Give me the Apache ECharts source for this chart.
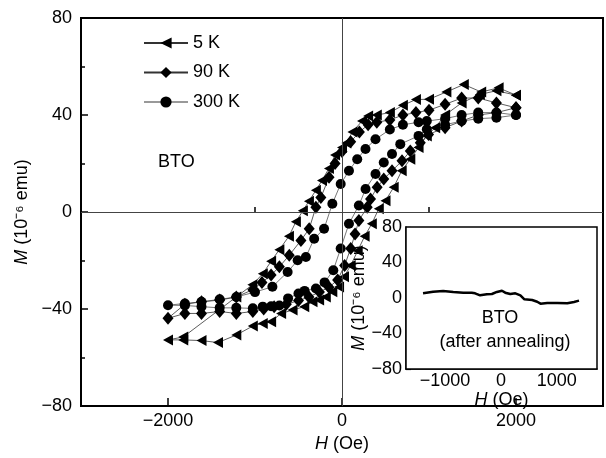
<!DOCTYPE html>
<html>
<head>
<meta charset="utf-8">
<script src="https://cdn.jsdelivr.net/npm/echarts@6/dist/echarts.min.js"></script>
<style>
  html, body { margin: 0; padding: 0; background: #fff; }
  #chart { width: 606px; height: 458px; }
</style>
</head>
<body>
<div id="chart"></div>
<script>
// 5 K loop: descending branch then ascending branch
const h5K = [2000, 1800, 1600, 1400, 1200, 1000, 850, 700, 550, 400, 300, 230, 120, 50, 0, -80, -150, -230, -300, -380, -450, -530, -610, -720, -815, -910, -1030, -1215, -1825, -2000,
  -1825, -1615, -1425, -1215, -1025, -911, -815, -700, -568, -434, -339, -263, -186, -111, -34, 23, 100, 180, 260, 343, 423, 500, 594, 686, 785, 880, 975, 1071, 1185, 1375, 1585, 1775, 2000]
const m5K = [48.2, 51.2, 49.5, 52.6, 49.5, 46.5, 46.4, 44, 41, 40, 39.6, 37.5, 33, 28.5, 26.6, 23.5, 18, 13, 9, 4.5, 0.5, -4, -10, -15.5, -20.3, -25.4, -30, -35, -51.5, -52.7,
  -52.7, -53, -53.8, -50.7, -47, -45.9, -45.2, -41.8, -40.4, -39, -37, -36.3, -35, -32.9, -30.9, -26.7, -22, -16, -10, -4.8, 1.4, 4.7, 10.2, 17, 21.8, 26.6, 31.4, 34.8, 40, 45, 48.5, 50, 48.2]

// 90 K loop
const h90K = [2000, 1775, 1566, 1375, 1185, 1000, 850, 700, 550, 400, 300, 200, 100, 0, -80, -149, -243, -300, -377, -472, -606, -720, -815, -920, -1025, -1215, -1406, -1615, -1806, -2000,
  -1806, -1615, -1406, -1215, -1025, -900, -780, -640, -500, -380, -260, -150, -50, 30, 100, 150, 194, 290, 328, 404, 480, 575, 690, 785, 900, 995, 1185, 1375, 1566, 1775, 2000]
const m90K = [43, 45, 47, 47, 44.4, 42, 41, 40, 38, 37, 36, 33, 29, 25, 20, 14.3, 6, 2, -6.9, -11.7, -17.8, -22.6, -26, -29, -32, -35, -36.3, -37, -38, -43.8,
  -41.8, -41.8, -41, -41.8, -41, -40, -39, -38, -36.5, -35, -33, -31, -28, -22, -15, -9, -3.5, 2, 5.4, 10.2, 13.6, 17, 21.1, 25.2, 28.6, 32, 34.8, 37.5, 40, 41, 43]

// 300 K loop
const h300K = [2000, 1775, 1566, 1375, 1185, 975, 880, 700, 550, 385, 270, 175, 80, -15, -111, -206, -320, -415, -510, -625, -800, -1000, -1215, -1406, -1615, -1806, -2000,
  -1806, -1615, -1406, -1215, -1025, -911, -815, -720, -620, -500, -430, -300, -200, -100, -15, 80, 194, 271, 385, 480, 575, 670, 880, 975, 1185, 1375, 1566, 1775, 2000]
const m300K = [40, 41, 41, 40, 38.5, 37.5, 37, 36, 34, 30, 26, 21.8, 17, 11.6, 3.4, -6.9, -11, -18.5, -19.9, -24.7, -30.8, -33, -35, -36, -37, -37.7, -38.4,
  -38.5, -39, -39.5, -39.5, -39.7, -39, -38.8, -38.5, -35.6, -33.6, -32.5, -31.5, -29, -24, -15, -4.8, 2.7, 9.5, 15.7, 20.4, 23.9, 28, 31.4, 34.1, 36, 37.5, 38.5, 38.9, 40]

// inset: after annealing
const hAnneal = [-1395, -1214, -1034, -854, -674, -523, -463, -373, -252, -162, -72, 18, 77, 168, 258, 348, 420, 559, 649, 708, 829, 1009, 1189, 1308, 1398]
const mAnneal = [5.3, 7.1, 7.9, 6.8, 6.0, 6.0, 5.3, 3.0, 4.2, 4.5, 6.8, 8.2, 6.0, 4.5, 5.3, 3.0, -1.5, -2.3, -4.2, -6.4, -5.6, -5.6, -6.0, -4.5, -3.0]

const mainXLabels = [-2000, 0, 2000]
const mainXMinorTicks = [-1000, 1000]
const insetXTicks = [-1500, -1000, -500, 0, 500, 1000, 1500]
const insetXLabels = [-1000, 0, 1000]

const FONT = 'Liberation Sans, Arial, sans-serif'
const zip = (xs, ys) => xs.map((x, i) => [x, ys[i]])
const minus = (v) => String(v).replace('-', '\u2212')

const labelStyle = { color: '#000', fontSize: 18, fontFamily: FONT, formatter: minus }
const axisName = (letter, rest) => `{i|${letter}}${rest}`
const nameStyle = {
  color: '#000', fontSize: 18, fontFamily: FONT,
  rich: { i: { fontStyle: 'italic', fontSize: 18, fontFamily: FONT, color: '#000' } },
}

const chart = echarts.init(document.getElementById('chart'))

const option = {
  animation: false,
  backgroundColor: '#fff',
  textStyle: { fontFamily: FONT },
  grid: [
    { left: 81, top: 18, right: 3, bottom: 50, show: true, borderColor: '#000', borderWidth: 2, backgroundColor: 'transparent' },
    { left: 406, top: 227, right: 9, bottom: 89, show: true, borderColor: '#000', borderWidth: 1.5, backgroundColor: '#fff', z: 5 },
  ],
  legend: {
    orient: 'vertical',
    left: 138,
    top: 28,
    itemWidth: 44,
    itemHeight: 14,
    itemGap: 9.5,
    textStyle: { color: '#000', fontSize: 18, fontFamily: FONT, lineHeight: 20 },
    data: [
      { name: '5 K' },
      { name: '90 K' },
      { name: '300 K', lineStyle: { color: '#999' } },
    ],
  },
  xAxis: [
    {
      gridIndex: 0, type: 'value', min: -3000, max: 3000,
      name: axisName('H', ' (Oe)'), nameLocation: 'middle', nameGap: 23, nameTextStyle: nameStyle,
      axisLine: { show: true, onZero: false, lineStyle: { color: '#000', width: 2 } },
      axisTick: { inside: true, length: 8, customValues: mainXLabels, lineStyle: { color: '#000', width: 1.5 } },
      axisLabel: Object.assign({ customValues: mainXLabels, margin: 6 }, labelStyle),
      splitLine: { show: false },
    },
    {
      gridIndex: 0, type: 'value', min: -3000, max: 3000, position: 'bottom',
      axisLine: { show: false },
      axisTick: { inside: true, length: 5, customValues: mainXMinorTicks, lineStyle: { color: '#000', width: 1.5 } },
      axisLabel: { show: false },
      splitLine: { show: false },
    },
    {
      gridIndex: 1, type: 'value', min: -1700, max: 1720,
      name: axisName('H', ' (Oe)'), nameLocation: 'middle', nameGap: 14, nameTextStyle: nameStyle,
      axisLine: { show: true, onZero: false, lineStyle: { color: '#000', width: 1.5 } },
      axisTick: { inside: true, length: 4, customValues: insetXTicks, lineStyle: { color: '#000', width: 1.2 } },
      axisLabel: Object.assign({ customValues: insetXLabels, margin: 3 }, labelStyle),
      splitLine: { show: false },
    },
  ],
  yAxis: [
    {
      gridIndex: 0, type: 'value', min: -80, max: 80, interval: 40,
      name: axisName('M', ' (10\u207B\u2076 emu)'), nameLocation: 'middle', nameGap: 43, nameTextStyle: nameStyle,
      axisLine: { show: true, onZero: false, lineStyle: { color: '#000', width: 2 } },
      axisTick: { inside: true, length: 7, lineStyle: { color: '#000', width: 1.5 } },
      minorTick: { show: true, splitNumber: 2, length: 4, lineStyle: { color: '#000', width: 1.5 } },
      axisLabel: Object.assign({ margin: 9 }, labelStyle),
      splitLine: { show: false },
    },
    {
      gridIndex: 1, type: 'value', min: -80, max: 80, interval: 40,
      name: axisName('M', ' (10\u207B\u2076 emu)'), nameLocation: 'middle', nameGap: 30, nameTextStyle: nameStyle,
      axisLine: { show: true, onZero: false, lineStyle: { color: '#000', width: 1.5 } },
      axisTick: { inside: true, length: 5, lineStyle: { color: '#000', width: 1.2 } },
      minorTick: { show: true, splitNumber: 2, length: 3, lineStyle: { color: '#000', width: 1.2 } },
      axisLabel: Object.assign({ margin: 4 }, labelStyle),
      splitLine: { show: false },
    },
  ],
  series: [
    {
      name: '300 K', type: 'line', xAxisIndex: 0, yAxisIndex: 0,
      data: zip(h300K, m300K),
      symbol: 'circle', symbolSize: 10,
      itemStyle: { color: '#000' },
      lineStyle: { color: '#555', width: 0.8 },
      markLine: {
        silent: true, symbol: 'none', label: { show: false },
        lineStyle: { color: '#444', width: 1, type: 'solid' },
        data: [{ xAxis: 0 }, { yAxis: 0 }],
      },
    },
    {
      name: '90 K', type: 'line', xAxisIndex: 0, yAxisIndex: 0,
      data: zip(h90K, m90K),
      symbol: 'diamond', symbolSize: [11, 13],
      itemStyle: { color: '#000' },
      lineStyle: { color: '#333', width: 0.8 },
    },
    {
      name: '5 K', type: 'line', xAxisIndex: 0, yAxisIndex: 0,
      data: zip(h5K, m5K),
      symbol: 'triangle', symbolSize: [11, 10], symbolRotate: 90,
      itemStyle: { color: '#000' },
      lineStyle: { color: '#333', width: 0.8 },
    },
    {
      name: 'annealed', type: 'line', xAxisIndex: 2, yAxisIndex: 1,
      data: zip(hAnneal, mAnneal),
      showSymbol: false, symbol: 'none', z: 6,
      lineStyle: { color: '#000', width: 2.5 },
    },
  ],
  graphic: [
    { type: 'text', x: 158, y: 162, z: 10, style: { text: 'BTO', fontSize: 18, fontFamily: FONT, fill: '#000', verticalAlign: 'middle', textVerticalAlign: 'middle' } },
    { type: 'text', x: 500, y: 318, z: 10, style: { text: 'BTO', fontSize: 18, fontFamily: FONT, fill: '#000', align: 'center', textAlign: 'center', verticalAlign: 'middle', textVerticalAlign: 'middle' } },
    { type: 'text', x: 505, y: 342, z: 10, style: { text: '(after annealing)', fontSize: 18, fontFamily: FONT, fill: '#000', align: 'center', textAlign: 'center', verticalAlign: 'middle', textVerticalAlign: 'middle' } },
  ],
}

chart.setOption(option)
</script>
</body>
</html>
